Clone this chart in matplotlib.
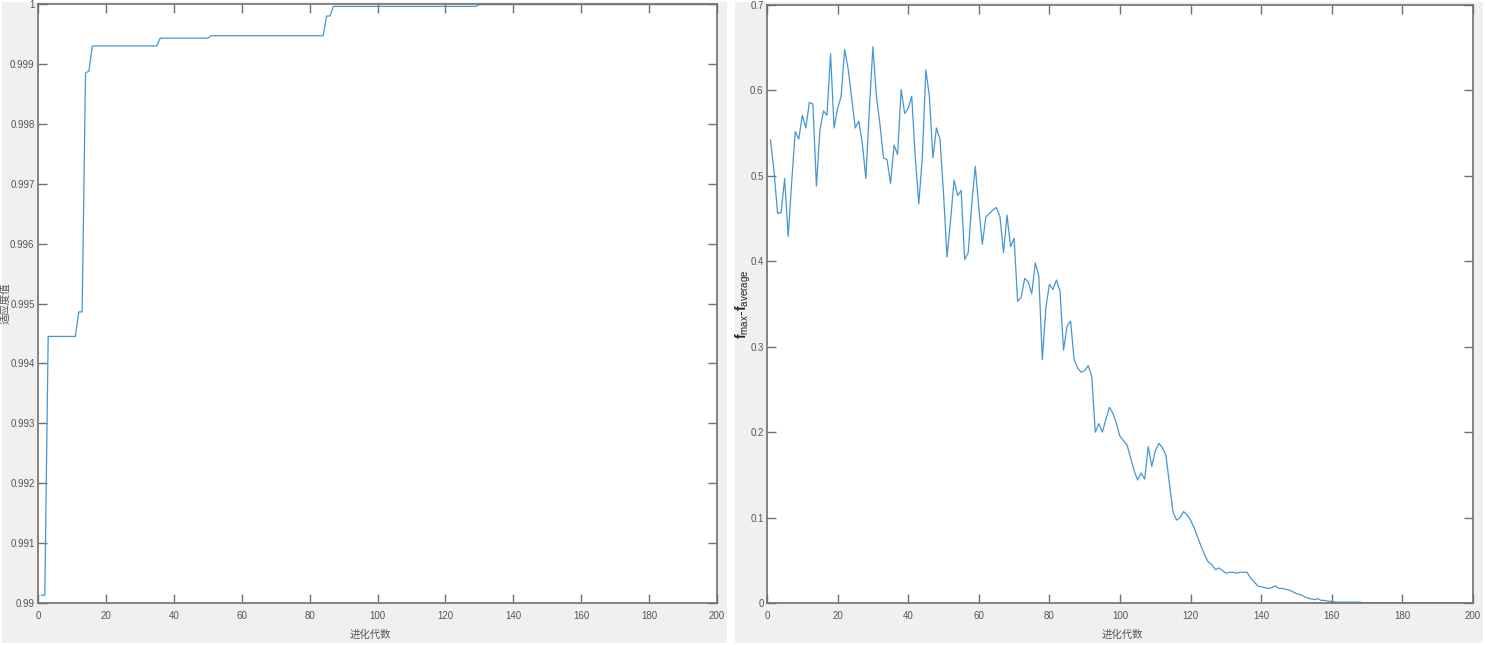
import numpy as np
import matplotlib
matplotlib.use('Agg')
import matplotlib.pyplot as plt
from matplotlib.patches import Rectangle

# ---------------- data ----------------
# left: best fitness per generation (only the generations where it changes)
fit_gen = [1, 2, 3, 11, 12, 13, 14, 15, 16, 35, 36, 50, 51, 84, 85, 86, 87, 129, 130, 200]
fit_val = [0.99013, 0.99013, 0.99445, 0.99445, 0.99486, 0.99486, 0.99885, 0.99888,
           0.99930, 0.99930, 0.99943, 0.99943, 0.99947, 0.99947, 0.99980, 0.99980,
           0.99996, 0.99996, 0.99999, 0.99999]

# right: f_max - f_average per generation (gen 1..200)
diff_val = [
    0.542, 0.505, 0.456, 0.457, 0.497, 0.429, 0.493, 0.552, 0.543, 0.571,
    0.556, 0.586, 0.584, 0.488, 0.554, 0.576, 0.571, 0.643, 0.556, 0.579,
    0.593, 0.648, 0.625, 0.590, 0.556, 0.564, 0.538, 0.497, 0.578, 0.651,
    0.593, 0.560, 0.521, 0.519, 0.491, 0.536, 0.525, 0.601, 0.573, 0.579,
    0.593, 0.522, 0.467, 0.522, 0.624, 0.593, 0.521, 0.556, 0.543, 0.480,
    0.405, 0.448, 0.495, 0.477, 0.483, 0.402, 0.410, 0.467, 0.511, 0.463,
    0.420, 0.452, 0.456, 0.460, 0.463, 0.452, 0.410, 0.454, 0.417, 0.427,
    0.353, 0.358, 0.380, 0.376, 0.362, 0.398, 0.383, 0.285, 0.346, 0.373,
    0.367, 0.378, 0.365, 0.296, 0.324, 0.330, 0.285, 0.275, 0.270, 0.272,
    0.278, 0.265, 0.200, 0.210, 0.200, 0.215, 0.229, 0.222, 0.210, 0.195,
    0.190, 0.185, 0.170, 0.155, 0.144, 0.152, 0.145, 0.183, 0.160, 0.178,
    0.187, 0.182, 0.173, 0.140, 0.107, 0.097, 0.100, 0.107, 0.103, 0.097,
    0.088, 0.077, 0.066, 0.056, 0.048, 0.045, 0.039, 0.041, 0.038, 0.035,
    0.036, 0.036, 0.035, 0.036, 0.036, 0.036, 0.029, 0.025, 0.020, 0.019,
    0.018, 0.017, 0.018, 0.020, 0.017, 0.017, 0.016, 0.015, 0.013, 0.011,
    0.010, 0.008, 0.006, 0.005, 0.004, 0.005, 0.003, 0.003, 0.002, 0.002,
    0.001, 0.001, 0.001, 0.001, 0.001, 0.001, 0.001, 0.001, 0.000, 0.000,
    0.000, 0.000, 0.000, 0.000, 0.000, 0.000, 0.000, 0.000, 0.000, 0.000,
    0.000, 0.000, 0.000, 0.000, 0.000, 0.000, 0.000, 0.000, 0.000, 0.000,
    0.000, 0.000, 0.000, 0.000, 0.000, 0.000, 0.000, 0.000, 0.000, 0.000,
]
diff_gen = list(range(1, len(diff_val) + 1))

x_ticks = [0, 20, 40, 60, 80, 100, 120, 140, 160, 180, 200]
left_yticks = [0.99, 0.991, 0.992, 0.993, 0.994, 0.995, 0.996, 0.997, 0.998, 0.999, 1.0]
left_ylabels = ['0.99', '0.991', '0.992', '0.993', '0.994', '0.995', '0.996',
                '0.997', '0.998', '0.999', '1']
right_yticks = [0, 0.1, 0.2, 0.3, 0.4, 0.5, 0.6, 0.7]
right_ylabels = ['0', '0.1', '0.2', '0.3', '0.4', '0.5', '0.6', '0.7']

xlabel_txt = '进化代数'
left_ylabel_txt = '适应度值'
right_ylabel_txt = r'$\mathbf{f}_{\rm max}$-$\mathbf{f}_{\rm average}$'

# ---------------- style ----------------
plt.rcParams['font.family'] = ['Liberation Sans', 'DejaVu Sans']
plt.rcParams['mathtext.fontset'] = 'custom'
plt.rcParams['mathtext.rm'] = 'Liberation Sans'
plt.rcParams['mathtext.bf'] = 'Liberation Sans:bold'
cjk = ['Noto Sans CJK SC', 'DejaVu Sans']
line_col = '#4696d6'
axis_col = '#707070'
tick_col = '#555555'
bg = '#f0f0f0'

W, H = 1485, 645
fig = plt.figure(figsize=(W / 100, H / 100), dpi=100, facecolor='white')

# gray window backgrounds of the two screenshots
fig.patches.append(Rectangle((2 / W, 2 / H), 725 / W, 641 / H, transform=fig.transFigure,
                             facecolor=bg, edgecolor='none', zorder=-10))
fig.patches.append(Rectangle((735 / W, 2 / H), 748 / W, 641 / H, transform=fig.transFigure,
                             facecolor=bg, edgecolor='none', zorder=-10))


def style_axes(ax):
    ax.set_facecolor('white')
    for s in ax.spines.values():
        s.set_color(axis_col)
        s.set_linewidth(1.2)
    ax.tick_params(direction='in', length=6.5, width=1.0, color=axis_col,
                   labelcolor=tick_col, labelsize=7, top=True, right=True)
    ax.tick_params(axis='x', pad=6)
    ax.tick_params(axis='y', pad=2.5)


# left panel
ax1 = fig.add_axes([38 / W, (H - 603) / H, (717 - 38) / W, (603 - 4) / H])
ax1.plot(fit_gen, fit_val, color=line_col, lw=0.9)
ax1.set_xlim(0, 200)
ax1.set_ylim(0.99, 1.0)
ax1.set_xticks(x_ticks)
ax1.set_yticks(left_yticks)
ax1.set_yticklabels(left_ylabels)
style_axes(ax1)
ax1.set_xlabel(xlabel_txt, family=cjk, fontsize=7.5, color=tick_col)
ax1.xaxis.set_label_coords(0.49, -0.045)
ax1.set_ylabel(left_ylabel_txt, family=cjk, fontsize=7.5, color=tick_col)
ax1.yaxis.set_label_coords(-0.041, 0.5)

# right panel
ax2 = fig.add_axes([767 / W, (H - 603) / H, (1473 - 767) / W, (603 - 5) / H])
ax2.plot(diff_gen, diff_val, color=line_col, lw=0.9)
ax2.set_xlim(0, 200)
ax2.set_ylim(0, 0.7)
ax2.set_xticks(x_ticks)
ax2.set_yticks(right_yticks)
ax2.set_yticklabels(right_ylabels)
style_axes(ax2)
ax2.set_xlabel(xlabel_txt, family=cjk, fontsize=7.5, color=tick_col)
ax2.xaxis.set_label_coords(0.503, -0.045)
ax2.set_ylabel(right_ylabel_txt, fontsize=10, color='#222222')
ax2.yaxis.set_label_coords(-0.02, 0.5)

# title of right panel, almost entirely cut off at the top edge
fig.text(1113 / W, 1 - 3 / H, right_ylabel_txt, ha='center', va='bottom',
         fontsize=7, color=tick_col)

fig.savefig('out.png', dpi=100, facecolor='white')
